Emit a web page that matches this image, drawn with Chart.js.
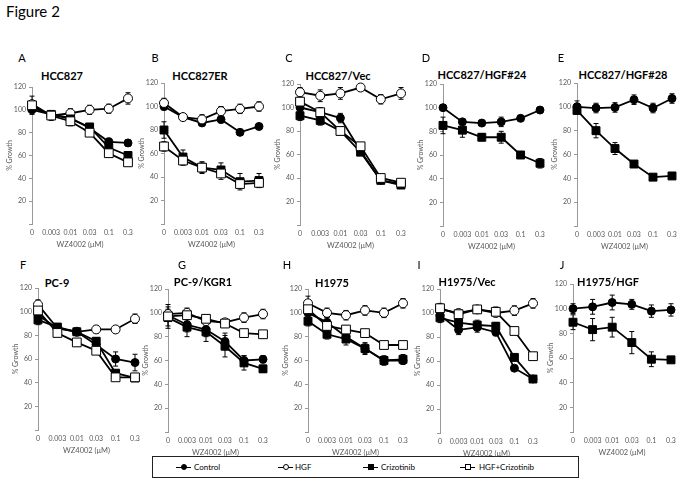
<!DOCTYPE html>
<html>
<head>
<meta charset="utf-8">
<script src="https://cdn.jsdelivr.net/npm/chart.js@4"></script>
<style>
body{margin:0;background:#fff;width:683px;height:492px;position:relative;overflow:hidden;font-family:Lato,'Open Sans',sans-serif;}
canvas{position:absolute;}
.t{position:absolute;white-space:nowrap;color:#000;line-height:1;}
.c{transform:translate(-50%,-50%);}
#legend{position:absolute;left:152px;top:456px;width:427px;height:22px;border:1px solid #222;box-sizing:border-box;}
.li{position:absolute;top:10px;height:0;border-top:1.5px solid #000;width:15px;}
.mk{position:absolute;box-sizing:border-box;border:1px solid #000;width:6px;height:6px;left:4.5px;top:-4px;}
.lt{position:absolute;top:5px;font-size:8px;color:#000 !important;text-decoration:none;}
</style>
</head>
<body>
<div class="t" style="left:6px;top:4px;font-size:15px">Figure 2</div>
<div id="legend">
  <div class="li" style="left:23px"><div class="mk" style="background:#000;border-radius:50%"></div></div>
  <span class="lt" style="left:41px">Control</span>
  <div class="li" style="left:125px"><div class="mk" style="background:#fff;border-radius:50%"></div></div>
  <span class="lt" style="left:142px">HGF</span>
  <div class="li" style="left:210px"><div class="mk" style="background:#000"></div></div>
  <span class="lt" style="left:228px">Crizotinib</span>
  <div class="li" style="left:307px"><div class="mk" style="background:#fff"></div></div>
  <span class="lt" style="left:326px">HGF+Crizotinib</span>
</div>
<script>
// doses on the x axis
const doses = ['0', '0.003', '0.01', '0.03', '0.1', '0.3'];
const panelLetters = ['A', 'B', 'C', 'D', 'E', 'F', 'G', 'H', 'I', 'J'];
const panelTitles = ['HCC827', 'HCC827ER', 'HCC827/Vec', 'HCC827/HGF#24', 'HCC827/HGF#28',
                     'PC-9', 'PC-9/KGR1', 'H1975', 'H1975/Vec', 'H1975/HGF'];

// % growth, one row per panel (A..J); null = series not shown in that panel
const controlVals = [
  [100, 96, 93, 84, 72, 71],
  [100, 91, 86, 89, 78, 83],
  [100, 96, 91, 63, 38, 35],
  [100, 88, 87, 88, 91, 98],
  [100, 99, 99.5, 106, 99, 107],
  [97, 86, 83, 72, 60, 57],
  [98, 90, 86, 76, 60, 61],
  [100, 92, 80, 70, 60, 60],
  [98, 86, 88, 84, 54, 45],
  [100, 101.5, 105, 103.5, 98, 99]
];
const hgfVals = [
  [105, 95, 97, 100, 101, 110],
  [103, 91, 89, 96, 98, 100],
  [113, 110, 112, 117, 107, 112],
  null,
  null,
  [106, 86, 83, 85, 85, 94],
  [99, 100, 93, 92, 96, 99],
  [108, 100, 98, 102, 100, 108],
  [103, 100, 103, 100, 102, 108],
  null
];
const crizVals = [
  [102, 96, 92, 85, 67, 60],
  [80, 57, 48, 46, 36, 37],
  [93, 89, 80, 62, 38, 34],
  [85, 81, 75, 75, 60, 53],
  [97, 80, 65, 52, 41, 42],
  [93, 87, 83, 75, 48, 44],
  [96, 88, 84, 72, 58, 53],
  [93, 82, 78, 70, 60, 61],
  [96, 92, 90, 89, 63, 45],
  [89, 83, 85, 72.5, 59, 58.5]
];
const comboVals = [
  [104, 95, 90, 80, 62, 54],
  [66, 54, 48, 43, 34, 35],
  [105, 96, 80, 67, 40, 36],
  null,
  null,
  [101, 82, 74, 67, 44.5, 44.5],
  [97, 98, 95, 91, 83, 82],
  [103, 89, 86, 83, 73, 73],
  [104, 99, 103, 101, 85, 64],
  null
];

// error bars (+/-), same layout
const controlErr = [
  [4, 3, 3, 3, 3, 3], [3, 2, 2, 3, 2, 2], [3, 3, 4, 2, 2, 2], [2, 2, 2, 4, 2, 2], [5, 4, 4, 4, 4, 4],
  [3, 3, 3, 3, 6, 7], [9, 6, 6, 7, 4, 3], [4, 4, 4, 4, 3, 3], [3, 4, 4, 3, 2, 2], [4, 6, 6, 4, 5, 5]
];
const hgfErr = [
  [7, 4, 4, 4, 4, 5], [4, 3, 4, 4, 4, 4], [4, 5, 5, 3, 4, 5], null, null,
  [4, 3, 3, 3, 3, 4], [4, 4, 3, 3, 4, 4], [6, 4, 4, 4, 4, 4], [3, 3, 3, 3, 4, 4], null
];
const crizErr = [
  [3, 3, 3, 3, 3, 3], [7, 6, 4, 6, 7, 6], [4, 4, 3, 2, 2, 2], [7, 6, 3, 5, 3, 4], [3, 6, 5, 2, 2, 2],
  [4, 3, 3, 3, 2, 2], [9, 8, 8, 9, 6, 3], [4, 4, 5, 5, 4, 4], [4, 3, 4, 3, 2, 2], [6, 9, 8, 9, 6, 2]
];
const comboErr = [
  [3, 4, 4, 3, 3, 2], [4, 4, 5, 5, 3, 4], [3, 4, 3, 2, 2, 2], null, null,
  [3, 3, 3, 3, 2, 2], [4, 4, 3, 3, 3, 3], [4, 3, 3, 3, 2, 2], [4, 3, 3, 4, 3, 2], null
];

// plot area of each panel: y axis x, last point x, y of 120, y of 0
const boxes = [
  {ax: 32, rx: 128, top: 87, bot: 224, lx: 22, ly: 57, tx: 62, ty: 75},
  {ax: 164, rx: 259, top: 83, bot: 224, lx: 155, ly: 57, tx: 200, ty: 75},
  {ax: 300, rx: 401, top: 84, bot: 225, lx: 289, ly: 57, tx: 338, ty: 75},
  {ax: 443, rx: 540, top: 84, bot: 226, lx: 426, ly: 57, tx: 482, ty: 74},
  {ax: 577, rx: 672, top: 83, bot: 226, lx: 561, ly: 57, tx: 623, ty: 74},
  {ax: 38, rx: 135, top: 288, bot: 430, lx: 23, ly: 264, tx: 57, ty: 282},
  {ax: 168, rx: 263, top: 289, bot: 432, lx: 182, ly: 264, tx: 203, ty: 281},
  {ax: 308, rx: 403, top: 289, bot: 432, lx: 287, ly: 264, tx: 332, ty: 282},
  {ax: 440, rx: 533, top: 289, bot: 433, lx: 419, ly: 264, tx: 467, ty: 281},
  {ax: 573, rx: 671, top: 284, bot: 432, lx: 562, ly: 264, tx: 608, ty: 281}
];

const errorBars = {
  id: 'errorBars',
  beforeDatasetsDraw(chart) {
    const ctx = chart.ctx;
    const y = chart.scales.y;
    ctx.save();
    ctx.strokeStyle = '#000';
    ctx.lineWidth = 1;
    chart.data.datasets.forEach((ds, di) => {
      const meta = chart.getDatasetMeta(di);
      meta.data.forEach((pt, j) => {
        const e = ds.errors[j];
        const yt = y.getPixelForValue(ds.data[j] + e);
        const yb = y.getPixelForValue(ds.data[j] - e);
        ctx.beginPath();
        ctx.moveTo(pt.x, yt); ctx.lineTo(pt.x, yb);
        ctx.moveTo(pt.x - 2.5, yt); ctx.lineTo(pt.x + 2.5, yt);
        ctx.moveTo(pt.x - 2.5, yb); ctx.lineTo(pt.x + 2.5, yb);
        ctx.stroke();
      });
    });
    ctx.restore();
  }
};

function series(label, vals, errs, shape, fill, r, order) {
  return {
    label: label, data: vals, errors: errs, order: order,
    borderColor: '#000', borderWidth: 1.8, tension: 0, clip: false,
    pointStyle: shape, pointRadius: r, pointHoverRadius: r,
    pointBorderColor: '#000', pointBorderWidth: 1, pointBackgroundColor: fill
  };
}

function addText(txt, x, y, size, bold) {
  const d = document.createElement('div');
  d.className = 't c';
  d.textContent = txt;
  d.style.left = x + 'px';
  d.style.top = y + 'px';
  d.style.fontSize = size + 'px';
  if (bold) d.style.fontWeight = 'bold';
  document.body.appendChild(d);
}

const tickColor = '#595959';

panelTitles.forEach((title, i) => {
  const b = boxes[i];
  addText(panelLetters[i], b.lx, b.ly, 11, false);
  addText(title, b.tx, b.ty, 11, true);

  const left = b.ax - 28, top = b.top - 8;
  const w = b.rx + 10 - left, h = b.bot + 28 - top;
  const cv = document.createElement('canvas');
  cv.width = w; cv.height = h;
  cv.style.left = left + 'px'; cv.style.top = top + 'px';
  document.body.appendChild(cv);

  const datasets = [series('Control', controlVals[i], controlErr[i], 'circle', '#000', 4, 4)];
  if (hgfVals[i]) datasets.push(series('HGF', hgfVals[i], hgfErr[i], 'circle', '#fff', 4.5, 3));
  datasets.push(series('Crizotinib', crizVals[i], crizErr[i], 'rect', '#000', 5.6, 2));
  if (comboVals[i]) datasets.push(series('HGF+Crizotinib', comboVals[i], comboErr[i], 'rect', '#fff', 6.2, 1));

  new Chart(cv, {
    type: 'line',
    data: { labels: doses, datasets: datasets },
    plugins: [errorBars],
    options: {
      responsive: false,
      animation: false,
      layout: { padding: { top: 8, right: 10, left: 0, bottom: 0 } },
      plugins: { legend: { display: false }, tooltip: { enabled: false } },
      scales: {
        x: {
          offset: false,
          grid: { display: false, drawTicks: false },
          border: { display: false },
          ticks: { color: tickColor, font: { family: 'Lato', size: 7 }, padding: 5, maxRotation: 0, minRotation: 0, autoSkip: false },
          title: { display: true, text: 'WZ4002 (μM)', color: tickColor, font: { family: 'Lato', size: 7.5 }, padding: { top: 0, bottom: 3 } },
          afterFit: s => { s.height = 28; }
        },
        y: {
          min: 0, max: 120,
          grid: { drawOnChartArea: false, drawTicks: true, tickLength: 3, color: '#999' },
          border: { display: true, color: '#999' },
          ticks: { stepSize: 20, color: tickColor, font: { family: 'Lato', size: 7 }, padding: 3,
                   callback: v => v === 0 ? '' : v },
          title: { display: true, text: '% Growth', color: tickColor, font: { family: 'Lato', size: 7 }, padding: { top: 2, bottom: 0 } },
          afterFit: s => { s.width = 28; }
        }
      }
    }
  });
});
</script>
</body>
</html>
